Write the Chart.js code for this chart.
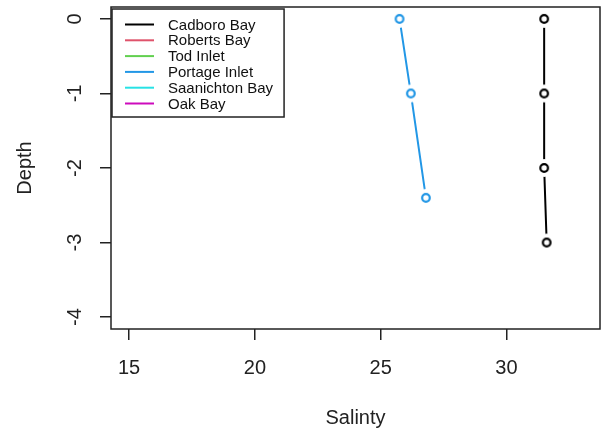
<!DOCTYPE html>
<html>
<head>
<meta charset="utf-8">
<script src="https://cdn.jsdelivr.net/npm/chart.js@4"></script>
<style>
  html, body { margin: 0; padding: 0; background: #fff; }
</style>
</head>
<body>
<canvas id="myPlot" width="607" height="435"></canvas>
<script>
// sites in legend order, R 4 default palette
const siteNames = ['Cadboro Bay', 'Roberts Bay', 'Tod Inlet', 'Portage Inlet', 'Saanichton Bay', 'Oak Bay'];
const siteColors = ['#000000', '#DF536B', '#61D04F', '#2297E6', '#28E2E5', '#CD0BBC'];

// salinity (x) vs depth (y) per site
const cadboroSalinity = [31.5, 31.5, 31.5, 31.6];
const cadboroDepth = [0, -1, -2, -3];
const robertsSalinity = [];
const robertsDepth = [];
const todSalinity = [];
const todDepth = [];
const portageSalinity = [25.75, 26.2, 26.8];
const portageDepth = [0, -1, -2.4];
const saanichtonSalinity = [];
const saanichtonDepth = [];
const oakSalinity = [];
const oakDepth = [];

const xTicks = [15, 20, 25, 30];
const yTicks = [0, -1, -2, -3, -4];

const siteSalinity = [cadboroSalinity, robertsSalinity, todSalinity, portageSalinity, saanichtonSalinity, oakSalinity];
const siteDepth = [cadboroDepth, robertsDepth, todDepth, portageDepth, saanichtonDepth, oakDepth];

Chart.defaults.font.family = '"Liberation Sans", Arial, sans-serif';
Chart.defaults.color = '#000';

// open circle with a white halo so the line breaks around it (type = "b")
function ringPoint(color) {
  const c = document.createElement('canvas');
  c.width = 22; c.height = 22;
  const g = c.getContext('2d');
  g.fillStyle = '#fff';
  g.beginPath(); g.arc(11, 11, 9, 0, 2 * Math.PI); g.fill();
  g.strokeStyle = color; g.lineWidth = 2.2;
  g.beginPath(); g.arc(11, 11, 3.8, 0, 2 * Math.PI); g.stroke();
  return c;
}

const datasets = siteNames.map((name, i) => ({
  label: name,
  data: siteSalinity[i].map((s, j) => ({ x: s, y: siteDepth[i][j] })),
  showLine: true,
  borderColor: siteColors[i],
  borderWidth: 2,
  pointStyle: ringPoint(siteColors[i]),
  pointRadius: 5,
  tension: 0
}));

const boxAndLegend = {
  id: 'boxAndLegend',
  afterDraw(chart) {
    const { ctx, chartArea: a } = chart;
    ctx.save();
    ctx.strokeStyle = '#222';
    ctx.lineWidth = 1.5;
    ctx.strokeRect(a.left, a.top, a.right - a.left, a.bottom - a.top);

    ctx.font = '15px "Liberation Sans", Arial, sans-serif';
    const maxW = Math.max(...siteNames.map(n => ctx.measureText(n).width));
    const lx = a.left + 1, ly = a.top + 2;
    const w = 57 + maxW + 10, h = 108;
    ctx.fillStyle = '#fff';
    ctx.fillRect(lx, ly, w, h);
    ctx.strokeRect(lx, ly, w, h);
    ctx.textBaseline = 'middle';
    siteNames.forEach((n, i) => {
      const y = ly + 15.5 + i * 15.8;
      ctx.strokeStyle = siteColors[i];
      ctx.lineWidth = 2;
      ctx.beginPath(); ctx.moveTo(lx + 13, y); ctx.lineTo(lx + 42, y); ctx.stroke();
      ctx.fillStyle = '#111';
      ctx.fillText(n, lx + 56, y + 1);
    });
    ctx.restore();
  }
};

new Chart(document.getElementById('myPlot'), {
  type: 'scatter',
  data: { datasets: datasets },
  options: {
    responsive: false,
    animation: false,
    devicePixelRatio: 1,
    layout: { padding: { top: 7, right: 6, left: 0, bottom: 0 } },
    plugins: { legend: { display: false }, tooltip: { enabled: false } },
    scales: {
      x: {
        min: 14.28, max: 33.72,
        afterBuildTicks: s => { s.ticks = xTicks.map(v => ({ value: v })); },
        afterFit: s => { s.height = 106; s.paddingLeft = 0; s.paddingRight = 0; },
        grid: { drawOnChartArea: false, tickLength: 11, color: '#222', lineWidth: 1.5 },
        border: { display: false },
        ticks: { font: { size: 20 }, padding: 16, color: '#222' },
        title: { display: true, text: 'Salinty', font: { size: 20 }, padding: { top: 5, bottom: 5 }, color: '#222' }
      },
      y: {
        min: -4.16, max: 0.16,
        afterBuildTicks: s => { s.ticks = yTicks.map(v => ({ value: v })); },
        afterFit: s => { s.width = 111; s.paddingTop = 0; s.paddingBottom = 0; },
        grid: { drawOnChartArea: false, tickLength: 11, color: '#222', lineWidth: 1.5 },
        border: { display: false },
        ticks: { font: { size: 20 }, padding: 16, minRotation: 90, maxRotation: 90, crossAlign: 'center', color: '#222' },
        title: { display: true, text: 'Depth', font: { size: 20 }, padding: { top: 13, bottom: 13 }, color: '#222' }
      }
    }
  },
  plugins: [boxAndLegend]
});
</script>
</body>
</html>
